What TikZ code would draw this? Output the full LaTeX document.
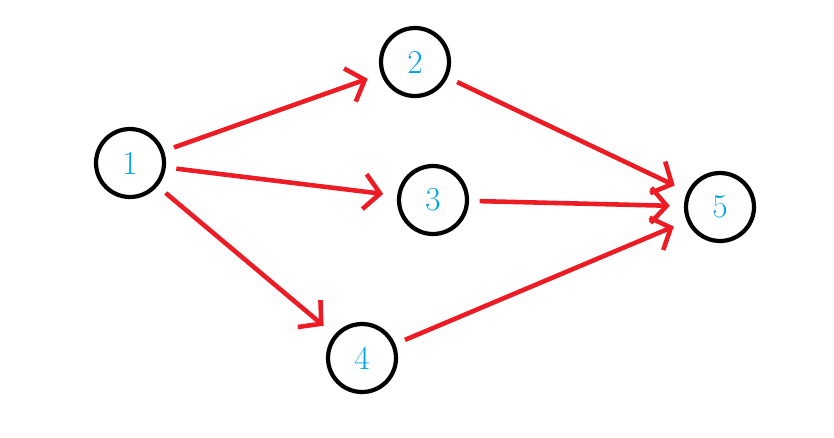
\documentclass[tikz,border=0pt]{standalone}
\usetikzlibrary{arrows.meta}
\definecolor{paintred}{RGB}{237,28,36}
\definecolor{paintblue}{RGB}{0,162,232}
\begin{document}
\begin{tikzpicture}[x=0.02cm,y=-0.02cm,
    evND/.style={circle,
                 draw=black,
                 line width=2.4pt,
                 minimum size=1.36cm,
                 inner sep=0pt,
                 text=paintblue,
                 font=\fontsize{19}{19}\selectfont},
    actE/.style={draw=paintred,
                 line width=2.6pt,
                 shorten <=6pt,
                 shorten >=8pt,
                 -{Straight Barb[length=9pt,width=20pt,line width=2.6pt]}}]
    \useasboundingbox (0,0) rectangle (834,437);
    \node[evND](N1) at (130,163) {1};
    \node[evND](N2) at (415,62)  {2};
    \node[evND](N3) at (433,200) {3};
    \node[evND](N4) at (362,358) {4};
    \node[evND](N5) at (720,207) {5};
    \path
        (N1) edge [actE] (N2)
             edge [actE] (N3)
             edge [actE] (N4)
        (N2) edge [actE] (N5)
        (N3) edge [actE] (N5)
        (N4) edge [actE] (N5)
        ;
\end{tikzpicture}
\end{document}
